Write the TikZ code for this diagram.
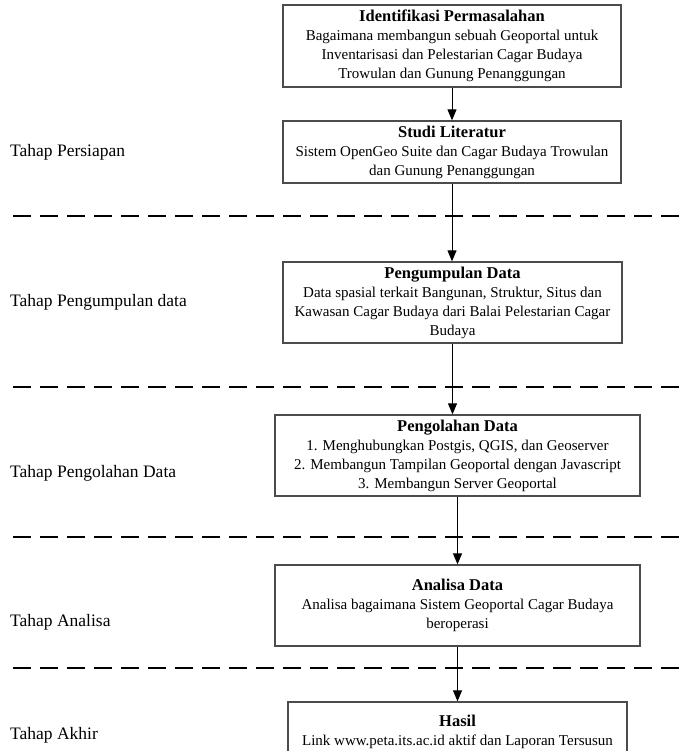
\documentclass[tikz,border=0pt]{standalone}
\usepackage{fontspec}
\setmainfont{Liberation Serif}
\usetikzlibrary{arrows.meta}

\newcommand{\stagetitle}[1]{{\fontsize{16.5}{20}\selectfont\textbf{#1}}}

\begin{document}
\begin{tikzpicture}[x=1pt, y=-1pt, >={Triangle[width=9pt,length=11pt]}]
    \tikzstyle{stage}=[draw=black!70, line width=1.3pt, fill=white, align=center, inner sep=2pt, font=\fontsize{15}{19}\selectfont]
    \tikzstyle{phase}=[anchor=west, inner sep=0pt, font=\fontsize{17.5}{21}\selectfont]
    \tikzstyle{divider}=[dash pattern=on 18pt off 9pt, line width=2.2pt]
    \tikzstyle{flow}=[->, line width=1pt]

    \useasboundingbox (0,0) rectangle (680,751);
    \clip (0,0) rectangle (680,751);

    % Draw the dashed lines between the phases
    \foreach \y in {216,387,537,668}
        \draw[divider] (13,\y) -- (680,\y);

    % Draw the phase labels on the left
    \foreach \name / \y / \txt in {persiapan/152/Tahap Persiapan, pengumpulan/302/Tahap Pengumpulan data,
        pengolahan/473/Tahap Pengolahan Data, analisa/622/Tahap Analisa, akhir/735/Tahap Akhir}
        \node[phase] (L-\name) at (10,\y) {\txt};

    % Draw the stage boxes
    \node[stage, minimum width=338, minimum height=82] (S-1) at (452,46)
        {\stagetitle{Identifikasi Permasalahan}\\Bagaimana membangun sebuah Geoportal untuk\\Inventarisasi dan Pelestarian Cagar Budaya\\Trowulan dan Gunung Penanggungan};
    \node[stage, minimum width=338, minimum height=62] (S-2) at (452,152)
        {\stagetitle{Studi Literatur}\\Sistem OpenGeo Suite dan Cagar Budaya Trowulan\\dan Gunung Penanggungan};
    \node[stage, minimum width=339, minimum height=81] (S-3) at (452.5,302.5)
        {\stagetitle{Pengumpulan Data}\\Data spasial terkait Bangunan, Struktur, Situs dan\\Kawasan Cagar Budaya dari Balai Pelestarian Cagar\\Budaya};
    \node[stage, minimum width=365, minimum height=81] (S-4) at (457.5,455.5)
        {\stagetitle{Pengolahan Data}\\1. Menghubungkan Postgis, QGIS, dan Geoserver\\2. Membangun Tampilan Geoportal dengan Javascript\\3. Membangun Server Geoportal};
    \node[stage, minimum width=365, minimum height=81] (S-5) at (457.5,605.5)
        {\stagetitle{Analisa Data}\\Analisa bagaimana Sistem Geoportal Cagar Budaya\\beroperasi};
    \node[stage, minimum width=339, minimum height=60] (S-6) at (457.5,732)
        {\stagetitle{Hasil}\\Link www.peta.its.ac.id aktif dan Laporan Tersusun};

    % Connect the stages from top to bottom
    \draw[flow] (S-1) -- (S-2);
    \draw[flow] (S-2.south) -- (S-2.south |- S-3.north);
    \draw[flow] (S-3.south) -- (S-3.south |- S-4.north);
    \draw[flow] (S-4) -- (S-5);
    \draw[flow] (S-5) -- (S-6);
\end{tikzpicture}
\end{document}
